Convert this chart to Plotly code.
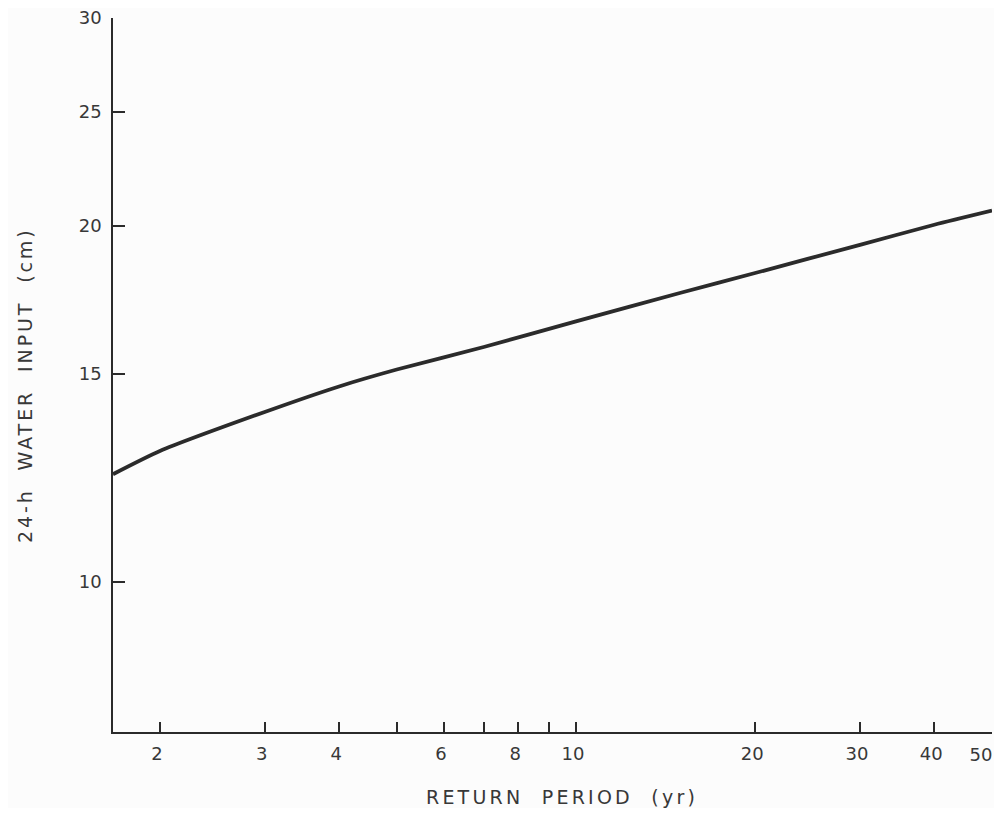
import numpy as np
import plotly.graph_objects as go

# Data (log-log axes)
return_period = [1.668, 2, 3, 4, 5, 7, 10, 15, 20, 30, 40, 50]
water_input = [12.33, 12.90, 13.92, 14.63, 15.12, 15.80, 16.61, 17.56, 18.25, 19.28, 20.05, 20.61]

x_tick_vals = [2, 3, 4, 5, 6, 7, 8, 9, 10, 20, 30, 40, 50]
x_tick_text = ["2", "3", "4", "", "6", "", "8", "", "10", "20", "30", "40", ""]
x_end_tick_vals = [50]
x_end_tick_text = ["50"]
y_tick_vals = [10, 15, 20, 25, 30]
y_tick_text = ["10", "15", "20", "25", "30"]

x_title = "RETURN  PERIOD  (yr)"
y_title = "24-h  WATER  INPUT  (cm)"

ink = "#2b2b2b"
text_col = "#383838"
font_family = "DejaVu Sans, Liberation Sans, Arial"

# page has an 8px body margin; target plot box in page px: x 113..992, y 18..732
W, H = 986, 800
L, T, R, B = 113 - 8, 18 - 8, W - (992 - 8), H - (732 - 8)
pw, ph = 992 - 113, 732 - 18
x_range = [np.log10(1.668), np.log10(50)]

fig = go.Figure()
fig.add_trace(go.Scatter(
    x=return_period, y=water_input, mode="lines",
    line=dict(color=ink, width=3.8, shape="spline", smoothing=0.6),
    showlegend=False, hoverinfo="skip", cliponaxis=False,
))
# invisible companion trace so the end-label axis is drawn
fig.add_trace(go.Scatter(
    x=return_period, y=water_input, mode="lines", xaxis="x2",
    line=dict(width=0), opacity=0, showlegend=False, hoverinfo="skip",
))

fig.update_layout(
    width=W, height=H, autosize=False,
    margin=dict(l=L, r=R, t=T, b=B, autoexpand=False),
    paper_bgcolor="#fcfcfc", plot_bgcolor="#fcfcfc",
    font=dict(family=font_family, size=18, color=text_col),
    xaxis=dict(
        type="log", range=x_range,
        tickvals=x_tick_vals, ticktext=x_tick_text,
        ticks="inside", ticklen=10, tickwidth=1.5, tickcolor=ink,
        showline=True, linecolor=ink, linewidth=1.5,
        showgrid=False, zeroline=False, automargin=False,
        tickfont=dict(size=18, color=text_col),
        ticklabelstandoff=5, ticklabeloverflow="allow", ticklabelshift=-3,
    ),
    xaxis2=dict(
        type="log", range=x_range, overlaying="x", side="bottom", anchor="y",
        tickvals=x_end_tick_vals, ticktext=x_end_tick_text,
        ticks="", showline=False, showgrid=False, zeroline=False, automargin=False,
        tickfont=dict(size=18, color=text_col),
        ticklabelstandoff=10, ticklabeloverflow="allow", ticklabelshift=-11,
    ),
    yaxis=dict(
        type="log", range=[np.log10(7.46), np.log10(30)],
        tickvals=y_tick_vals, ticktext=y_tick_text,
        ticks="inside", ticklen=12, tickwidth=1.5, tickcolor=ink,
        showline=True, linecolor=ink, linewidth=1.5,
        showgrid=False, zeroline=False, automargin=False,
        tickfont=dict(size=18, color=text_col),
        ticklabelstandoff=6, ticklabeloverflow="allow",
    ),
    annotations=[
        dict(text='<span style="letter-spacing:3.2px">' + x_title + "</span>",
             xref="paper", yref="paper",
             x=(562 - 113) / pw, y=-(797 - 732) / ph,
             showarrow=False, xanchor="center", yanchor="middle",
             font=dict(size=19, color=text_col, family=font_family)),
        dict(text='<span style="letter-spacing:2.9px">' + y_title + "</span>",
             xref="paper", yref="paper",
             x=-(113 - 25) / pw, y=(732 - 385) / ph,
             showarrow=False, xanchor="center", yanchor="middle", textangle=-90,
             font=dict(size=19, color=text_col, family=font_family)),
    ],
)

fig.write_html("out.html")
